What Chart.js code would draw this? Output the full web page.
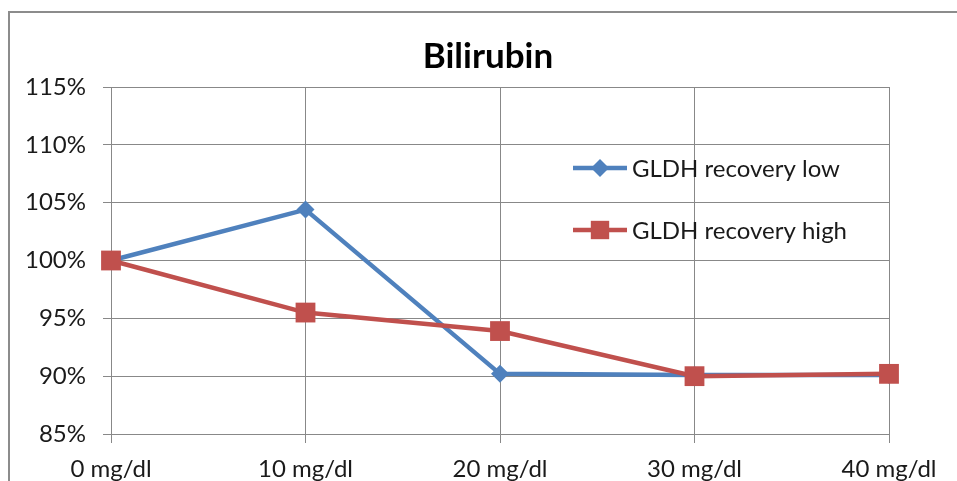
<!DOCTYPE html>
<html>
<head>
<meta charset="utf-8">
<script src="https://cdn.jsdelivr.net/npm/chart.js@4.4.0/dist/chart.umd.min.js"></script>
<style>
html, body { margin: 0; padding: 0; background: #fff; overflow: hidden; }
#frame { position: absolute; left: 8px; top: 11px; width: 1100px; height: 600px; border: 2px solid #8c8c8c; }
#wrap { position: absolute; left: 0; top: 0; width: 957px; height: 481px; }
</style>
</head>
<body>
<div id="frame"></div>
<div id="wrap"><canvas id="canvas" width="957" height="481"></canvas></div>
<script>
var chartTitle = 'Bilirubin';
var categories = ['0 mg/dl', '10 mg/dl', '20 mg/dl', '30 mg/dl', '40 mg/dl'];
var recoveryLow = [100.0, 104.4, 90.2, 90.1, 90.1];
var recoveryHigh = [100.0, 95.5, 93.9, 90.0, 90.2];
var yTicks = [85, 90, 95, 100, 105, 110, 115];

var gridColor = '#888888';
var textColor = '#1a1a1a';
var fontName = 'Lato';

// title is centred on the whole (wider, cropped) chart object, not on the canvas
const sheetTitle = {
    id: 'sheetTitle',
    afterDraw(chart) {
        const ctx = chart.ctx;
        ctx.save();
        ctx.fillStyle = '#000';
        ctx.font = 'bold 35px ' + fontName;
        ctx.textAlign = 'center';
        ctx.textBaseline = 'middle';
        ctx.fillText(chartTitle, 488, 57);
        ctx.restore();
    }
};

// legend drawn inside the plot, like the spreadsheet one
const insideLegend = {
    id: 'insideLegend',
    afterDraw(chart) {
        const ctx = chart.ctx;
        chart.data.datasets.forEach((ds, i) => {
            const y = 168 + i * 62;
            ctx.save();
            ctx.strokeStyle = ds.borderColor;
            ctx.lineWidth = ds.borderWidth;
            ctx.beginPath();
            ctx.moveTo(573, y);
            ctx.lineTo(627, y);
            ctx.stroke();
            ctx.fillStyle = ds.pointBackgroundColor;
            Chart.helpers.drawPoint(ctx, {
                pointStyle: ds.pointStyle,
                radius: ds.pointStyle === 'rect' ? 13 : ds.pointRadius,
                borderWidth: 0
            }, 600, y);
            ctx.fillStyle = textColor;
            ctx.font = '24px ' + fontName;
            ctx.textBaseline = 'middle';
            ctx.textAlign = 'left';
            ctx.fillText(ds.label, 632, y + 1);
            ctx.restore();
        });
    }
};

var ctx = document.getElementById('canvas').getContext('2d');
var chart = new Chart(ctx, {
    type: 'line',
    data: {
        labels: categories,
        datasets: [{
            label: 'GLDH recovery low',
            data: recoveryLow,
            borderColor: '#4F81BD',
            backgroundColor: '#4F81BD',
            pointBackgroundColor: '#4F81BD',
            borderWidth: 4.5,
            pointStyle: 'rectRot',
            pointRadius: 9,
            pointBorderWidth: 0,
            tension: 0,
            clip: false,
            order: 1
        }, {
            label: 'GLDH recovery high',
            data: recoveryHigh,
            borderColor: '#C0504D',
            backgroundColor: '#C0504D',
            pointBackgroundColor: '#C0504D',
            borderWidth: 4.5,
            pointStyle: 'rect',
            pointRadius: 14,
            pointBorderWidth: 0,
            tension: 0,
            clip: false,
            order: 0
        }]
    },
    options: {
        responsive: false,
        devicePixelRatio: 1,
        animation: false,
        layout: {
            padding: { left: 15, right: 68, top: 87, bottom: 0 }
        },
        plugins: {
            legend: { display: false },
            tooltip: { enabled: false },
            title: { display: false }
        },
        scales: {
            x: {
                offset: false,
                grid: { color: gridColor, lineWidth: 1, offset: false, tickLength: 9 },
                border: { color: gridColor, width: 1 },
                ticks: {
                    color: textColor,
                    font: { family: fontName, size: 24 },
                    padding: 12,
                    maxRotation: 0,
                    autoSkip: false
                },
                afterFit: function(scale) { scale.height = 47; }
            },
            y: {
                min: 85,
                max: 115,
                grid: { color: gridColor, lineWidth: 1, tickLength: 8 },
                border: { color: gridColor, width: 1 },
                ticks: {
                    color: textColor,
                    font: { family: fontName, size: 24 },
                    padding: 17,
                    callback: function(v) { return v + '%'; }
                },
                afterBuildTicks: function(scale) {
                    scale.ticks = yTicks.map(v => ({ value: v }));
                },
                afterFit: function(scale) { scale.width = 96; }
            }
        }
    },
    plugins: [sheetTitle, insideLegend]
});
</script>
</body>
</html>
